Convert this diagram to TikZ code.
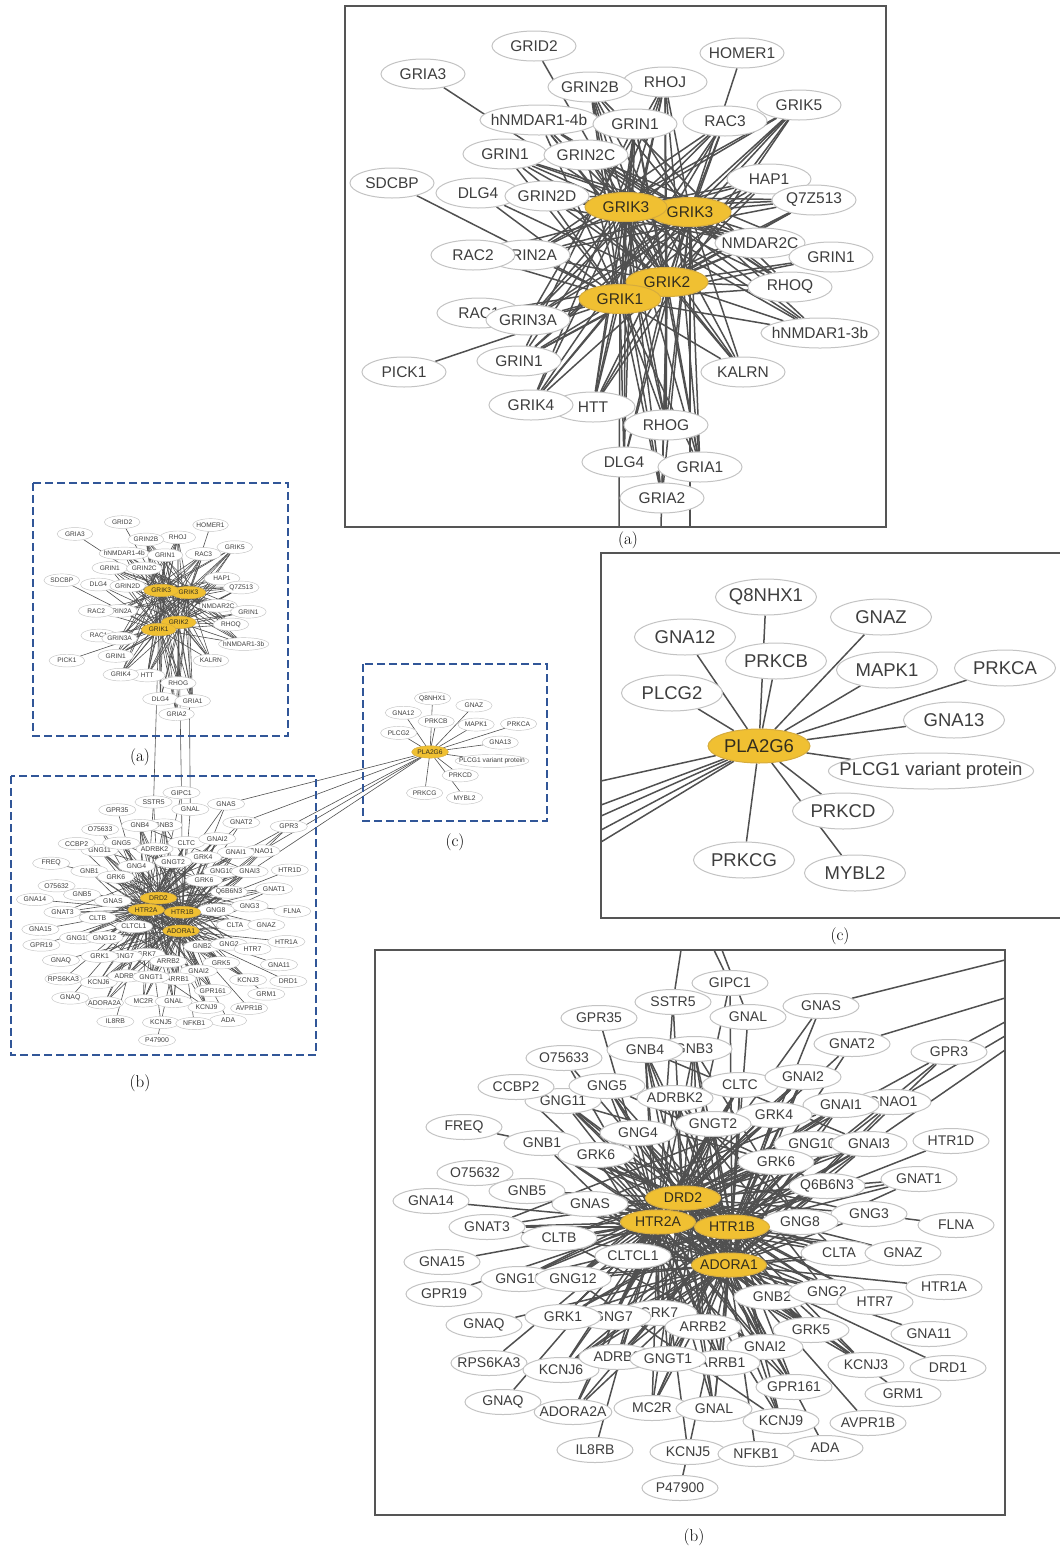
\documentclass[tikz,border=0pt]{standalone}
\usepackage{fontspec}
\newfontfamily\genefont{Liberation Sans}
\usetikzlibrary{shapes.geometric,backgrounds}

\definecolor{hubyellow}{RGB}{240,192,50}
\definecolor{hubedge}{RGB}{214,172,62}
\definecolor{ringgray}{RGB}{195,195,195}
\definecolor{labgray}{RGB}{62,62,62}
\definecolor{hubtext}{RGB}{50,45,30}
\definecolor{linkgray}{RGB}{80,80,80}
\definecolor{boxblue}{RGB}{49,86,152}
\definecolor{framegray}{RGB}{85,85,85}

% glutamate receptor network, in the coordinates of the large panel (a)
\newcommand{\netA}[1]{%
  \node[gA] (#1-grid2) at (534,46) {GRID2};
  \node[gA] (#1-homer1) at (742,53) {HOMER1};
  \node[gA] (#1-gria3) at (423,74) {GRIA3};
  \node[gA] (#1-rhoj) at (665,82) {RHOJ};
  \node[gA] (#1-grin2b) at (590,87) {GRIN2B};
  \node[gA] (#1-nmdar14b) at (539,120) {hNMDAR1-4b};
  \node[gA] (#1-grin1a) at (635,124) {GRIN1};
  \node[gA] (#1-rac3) at (725,121) {RAC3};
  \node[gA] (#1-grik5) at (799,105) {GRIK5};
  \node[gA] (#1-grin1b) at (505,154) {GRIN1};
  \node[gA] (#1-grin2c) at (586,155) {GRIN2C};
  \node[gA] (#1-sdcbp) at (392,183) {SDCBP};
  \node[gA] (#1-dlg4a) at (478,193) {DLG4};
  \node[gA] (#1-grin2d) at (547,196) {GRIN2D};
  \node[gA] (#1-hap1) at (769,179) {HAP1};
  \node[gA] (#1-q7z513) at (814,200) {Q7Z513};
  \node[hA] (#1-k3b) at (690,212) {GRIK3};
  \node[hA] (#1-k3a) at (626,207) {GRIK3};
  \node[gA] (#1-nmdar2c) at (760,243) {NMDAR2C};
  \node[gA] (#1-grin2a) at (528,255) {GRIN2A};
  \node[gA] (#1-rac2) at (473,255) {RAC2};
  \node[gA] (#1-grin1c) at (831,257) {GRIN1};
  \node[gA] (#1-rhoq) at (790,287) {RHOQ};
  \node[hA] (#1-k2) at (667,282) {GRIK2};
  \node[hA] (#1-k1) at (620,299) {GRIK1};
  \node[gA] (#1-rac1) at (479,313) {RAC1};
  \node[gA] (#1-grin3a) at (528,320) {GRIN3A};
  \node[gA] (#1-nmdar13b) at (820,333) {hNMDAR1-3b};
  \node[gA] (#1-pick1) at (404,372) {PICK1};
  \node[gA] (#1-grin1d) at (519,361) {GRIN1};
  \node[gA] (#1-kalrn) at (743,372) {KALRN};
  \node[gA] (#1-htt) at (593,407) {HTT};
  \node[gA] (#1-grik4) at (531,405) {GRIK4};
  \node[gA] (#1-rhog) at (666,425) {RHOG};
  \node[gA] (#1-dlg4b) at (624,462) {DLG4};
  \node[gA] (#1-gria1) at (700,467) {GRIA1};
  \node[gA] (#1-gria2) at (662,498) {GRIA2};
  \begin{pgfonlayer}{background}
    \foreach \n in {grin2b,rhoj,nmdar14b,grin1a,rac3,grik5,grin1b,grin2c,dlg4a,grin2d,hap1,q7z513,nmdar2c,grin2a,grin1c,rhoq,grin3a,nmdar13b,grin1d,kalrn,grik4,htt,rhog,dlg4b,gria1,gria2}
      \foreach \h in {k3a,k3b,k2,k1}
        \draw[link] (#1-\n) -- (#1-\h);
    \foreach \n/\h in {gria3/k3a,grid2/k3a,homer1/k3b,sdcbp/k1,pick1/k1,rac2/k1,rac1/k2,k3a/k3b,k3a/k2,k3a/k1,k3b/k2,k3b/k1,k2/k1,
        grin2b/kalrn,grin2b/rhoq,rhoj/grin3a,rhoj/grik4,grin1a/htt,grin1a/grin1d,rac3/grin3a,rac3/grin2a,grik5/grin2a,grik5/grin1d,
        grik5/htt,q7z513/grin2a,q7z513/grin2d,nmdar2c/grin2d,nmdar2c/grin1b,grin1c/dlg4a,grin1c/grin2c,rhoq/nmdar14b,rhoq/grin2c,
        nmdar13b/grin2c,nmdar13b/grin1b,kalrn/nmdar14b,rhog/grin2b,rhog/rhoj,gria1/grin1a,gria1/rhoj,gria2/grin2b,dlg4b/grin1a,
        grik4/rac3,htt/rhoj,grin3a/hap1,grin1d/q7z513,rac2/hap1}
      \draw[link] (#1-\n) -- (#1-\h);
  \end{pgfonlayer}%
}

% dopamine / serotonin receptor network, in the coordinates of the large panel (b)
\newcommand{\netB}[1]{%
  \node[gB] (#1-gipc1) at (730,983) {GIPC1};
  \node[gB] (#1-sstr5) at (673,1002) {SSTR5};
  \node[gB] (#1-gnasa) at (821,1006) {GNAS};
  \node[gB] (#1-gpr35) at (599,1018) {GPR35};
  \node[gB] (#1-gnala) at (748,1017) {GNAL};
  \node[gB] (#1-gnat2) at (852,1044) {GNAT2};
  \node[gB] (#1-gpr3) at (949,1052) {GPR3};
  \node[gB] (#1-gnb3) at (694,1049) {GNB3};
  \node[gB] (#1-gnb4) at (645,1050) {GNB4};
  \node[gB] (#1-o75633) at (564,1058) {O75633};
  \node[gB] (#1-gng11) at (563,1101) {GNG11};
  \node[gB] (#1-ccbp2) at (516,1087) {CCBP2};
  \node[gB] (#1-gng5) at (607,1086) {GNG5};
  \node[gB] (#1-cltc) at (740,1085) {CLTC};
  \node[gB] (#1-gnaiia) at (803,1077) {GNAI2};
  \node[gB] (#1-adrbk2) at (675,1098) {ADRBK2};
  \node[gB] (#1-gnao1) at (893,1102) {GNAO1};
  \node[gB] (#1-gnai1) at (841,1105) {GNAI1};
  \node[gB] (#1-grk4) at (774,1115) {GRK4};
  \node[gB] (#1-freq) at (464,1127) {FREQ};
  \node[gB] (#1-gngt2) at (713,1124) {GNGT2};
  \node[gB] (#1-gnb1) at (542,1143) {GNB1};
  \node[gB] (#1-gng4) at (638,1133) {GNG4};
  \node[gB] (#1-gng10) at (812,1144) {GNG10};
  \node[gB] (#1-gnai3) at (869,1144) {GNAI3};
  \node[gB] (#1-htr1d) at (951,1141) {HTR1D};
  \node[gB] (#1-grk6a) at (596,1155) {GRK6};
  \node[gB] (#1-grk6b) at (776,1162) {GRK6};
  \node[gB] (#1-o75632) at (475,1173) {O75632};
  \node[gB] (#1-gnat1) at (919,1179) {GNAT1};
  \node[gB] (#1-gnb5) at (527,1191) {GNB5};
  \node[gB] (#1-q6b6n3) at (827,1186) {Q6B6N3};
  \node[gB] (#1-gna14) at (431,1201) {GNA14};
  \node[gB] (#1-gnasb) at (590,1204) {GNAS};
  \node[gB] (#1-gng3) at (869,1214) {GNG3};
  \node[gB] (#1-flna) at (956,1225) {FLNA};
  \node[gB] (#1-gnat3) at (487,1227) {GNAT3};
  \node[gB] (#1-gng8) at (800,1222) {GNG8};
  \node[gB] (#1-cltb) at (559,1238) {CLTB};
  \node[gB] (#1-gna15) at (442,1262) {GNA15};
  \node[gB] (#1-cltcl1) at (633,1256) {CLTCL1};
  \node[gB] (#1-clta) at (839,1253) {CLTA};
  \node[gB] (#1-gnaz) at (903,1253) {GNAZ};
  \node[gB] (#1-htr1a) at (944,1287) {HTR1A};
  \node[gB] (#1-gng13) at (519,1279) {GNG13};
  \node[gB] (#1-gng12) at (573,1279) {GNG12};
  \node[gB] (#1-gpr19) at (444,1294) {GPR19};
  \node[gB] (#1-gnb2) at (772,1297) {GNB2};
  \node[gB] (#1-gng2) at (827,1292) {GNG2};
  \node[gB] (#1-htr7) at (875,1302) {HTR7};
  \node[gB] (#1-grk7) at (659,1313) {GRK7};
  \node[gB] (#1-gng7) at (613,1317) {GNG7};
  \node[gB] (#1-grk1) at (563,1317) {GRK1};
  \node[gB] (#1-arrb2) at (703,1327) {ARRB2};
  \node[gB] (#1-gnaqa) at (484,1325) {GNAQ};
  \node[gB] (#1-grk5) at (811,1330) {GRK5};
  \node[gB] (#1-gna11) at (929,1334) {GNA11};
  \node[gB] (#1-gnaiib) at (765,1347) {GNAI2};
  \node[gB] (#1-rps6ka3) at (489,1363) {RPS6KA3};
  \node[gB] (#1-kcnj6) at (561,1370) {KCNJ6};
  \node[gB] (#1-arrb1) at (722,1363) {ARRB1};
  \node[gB] (#1-adrb2) at (617,1357) {ADRB2};
  \node[gB] (#1-gngt1) at (668,1359) {GNGT1};
  \node[gB] (#1-kcnj3) at (866,1365) {KCNJ3};
  \node[gB] (#1-drd1) at (948,1368) {DRD1};
  \node[gB] (#1-gpr161) at (794,1387) {GPR161};
  \node[gB] (#1-grm1) at (903,1394) {GRM1};
  \node[gB] (#1-gnaqb) at (503,1402) {GNAQ};
  \node[gB] (#1-adora2a) at (573,1412) {ADORA2A};
  \node[gB] (#1-mc2r) at (652,1408) {MC2R};
  \node[gB] (#1-gnalb) at (714,1409) {GNAL};
  \node[gB] (#1-kcnj9) at (781,1421) {KCNJ9};
  \node[gB] (#1-avpr1b) at (868,1423) {AVPR1B};
  \node[gB] (#1-il8rb) at (595,1450) {IL8RB};
  \node[gB] (#1-kcnj5) at (688,1452) {KCNJ5};
  \node[gB] (#1-ada) at (825,1448) {ADA};
  \node[gB] (#1-nfkb1) at (756,1454) {NFKB1};
  \node[gB] (#1-p47900) at (680,1488) {P47900};
  \node[hB] (#1-drd2) at (683,1198) {DRD2};
  \node[hB] (#1-htr2a) at (658,1222) {HTR2A};
  \node[hB] (#1-htr1b) at (732,1227) {HTR1B};
  \node[hB] (#1-adora1) at (729,1265) {ADORA1};
  \begin{pgfonlayer}{background}
    \foreach \n in {gnb4,gnb3,gng5,cltc,gnaiia,gng11,adrbk2,gnai1,grk4,gngt2,gng4,gng10,gnai3,grk6a,grk6b,q6b6n3,gnasb,gng8,cltb,cltcl1,clta,gng12,gng13,gnb2,gng2,grk1,gng7,grk7,arrb2,grk5,gnaiib,adrb2,gngt1,arrb1,kcnj6,gpr161,kcnj3,mc2r,gnalb,kcnj9,adora2a,gnb5,gnb1,gng3,gnat3,gnaz,htr7,gnat1}
      \foreach \h in {drd2,htr2a,htr1b,adora1}
        \draw[link] (#1-\n) -- (#1-\h);
    \foreach \n/\h in {gipc1/drd2,gipc1/htr1b,sstr5/drd2,sstr5/htr2a,gnasa/drd2,gnasa/htr1b,gpr35/htr2a,gnala/adora1,gnat2/htr1b,gnat2/drd2,
        gpr3/htr1b,gpr3/adora1,gpr3/drd2,o75633/htr2a,o75633/drd2,ccbp2/htr2a,gnao1/htr1b,gnao1/adora1,htr1d/htr1b,o75632/htr2a,
        gna14/htr2a,gna15/htr2a,htr1a/adora1,gpr19/htr2a,gnaqa/adora1,gna11/adora1,rps6ka3/htr2a,drd1/adora1,grm1/adora1,gnaqb/htr2a,
        avpr1b/adora1,il8rb/htr2a,kcnj5/adora1,kcnj5/htr2a,nfkb1/adora1,ada/adora1,freq/gnb1,flna/gng3,p47900/kcnj5,
        drd2/htr2a,drd2/htr1b,drd2/adora1,htr2a/htr1b,htr2a/adora1,htr1b/adora1,
        gnb4/gnai3,gnb3/gng8,gng5/q6b6n3,cltc/cltcl1,gnaiia/gng12,gng11/grk6b,adrbk2/clta,gnai1/gnasb,grk4/gnat3,gngt2/gng7,
        gng4/gnb2,gng10/cltb,gnai3/grk1,grk6a/gng3,grk6b/gng13,q6b6n3/kcnj6,gnasb/grk5,gng8/gnb5,cltb/gnaiib,cltcl1/gnai1,
        clta/gnb1,gng12/grk4,gng2/adrbk2,grk1/gnaiia,gng7/cltc,grk7/gnb4,arrb2/gnb3,grk5/gng11,gnaiib/gng5,adrb2/gng10,
        gngt1/gngt2,arrb1/grk6a,kcnj6/gnai3,gpr161/gnb1,kcnj3/gnasb,mc2r/gnaiia,gnalb/gnb4,kcnj9/gng12}
      \draw[link] (#1-\n) -- (#1-\h);
  \end{pgfonlayer}%
}

% PLA2G6 star, in the coordinates of the large panel (c)
\newcommand{\netC}[1]{%
  \node[gC] (#1-q8nhx1) at (766,597) {Q8NHX1};
  \node[gC] (#1-gna12) at (685,637) {GNA12};
  \node[gC] (#1-gnaz) at (881,617) {GNAZ};
  \node[gC] (#1-prkcb) at (776,661) {PRKCB};
  \node[gC] (#1-mapk1) at (887,670) {MAPK1};
  \node[gC] (#1-prkca) at (1005,668) {PRKCA};
  \node[gC] (#1-plcg2) at (672,693) {PLCG2};
  \node[gC] (#1-gna13) at (954,720) {GNA13};
  \node[gC, inner xsep=-19pt] (#1-plcg1) at (931,771) {PLCG1 variant protein};
  \node[gC] (#1-prkcd) at (843,811) {PRKCD};
  \node[gC] (#1-prkcg) at (744,860) {PRKCG};
  \node[gC] (#1-mybl2) at (855,873) {MYBL2};
  \node[hC] (#1-pla2g6) at (759,746) {PLA2G6};
  \begin{pgfonlayer}{background}
    \foreach \n in {q8nhx1,gna12,gnaz,prkcb,mapk1,prkca,plcg2,gna13,plcg1,prkcd,prkcg,mybl2}
      \draw[link] (#1-pla2g6) -- (#1-\n);
  \end{pgfonlayer}%
}

\begin{document}
\begin{tikzpicture}[x=1pt, y=-1pt,
  gene/.style={ellipse, draw=ringgray, fill=white, text=labgray, ringline, inner ysep=0pt},
  ringline/.style={line width=1pt},
  link/.style={draw=linkgray, line width=1.5pt},
  thinlink/.style={draw=linkgray, line width=0.6pt},
  gA/.style={gene, font=\genefont\fontsize{15.5}{17}\selectfont, inner xsep=-6.5pt, minimum width=84pt, minimum height=30pt},
  hA/.style={gA, draw=hubedge, fill=hubyellow, text=hubtext, minimum width=82pt, minimum height=29pt},
  gB/.style={gene, font=\genefont\fontsize{14}{16}\selectfont, inner xsep=-6pt, minimum width=76pt, minimum height=25pt},
  hB/.style={gB, draw=hubedge, fill=hubyellow, text=hubtext, minimum width=75pt, minimum height=24pt},
  gC/.style={gene, font=\genefont\fontsize{18.5}{21}\selectfont, inner xsep=-6pt, minimum width=101pt, minimum height=36pt},
  hC/.style={gC, draw=hubedge, fill=hubyellow, text=hubtext, minimum width=102pt, minimum height=34pt},
  panel/.style={draw=framegray, line width=1.2pt},
  ovbox/.style={draw=boxblue, line width=2.6pt, dash pattern=on 8pt off 4pt},
  overview/.style={transform shape, ringline/.style={line width=0.45pt}, link/.style={draw=linkgray, line width=0.6pt}},
  panelcap/.style={font=\fontsize{17}{20}\selectfont, inner sep=0pt}
]
  \useasboundingbox (0,0) rectangle (1060,1551);

  % large panel (a)
  \draw[panel] (345,6) rectangle (886,527);
  \netA{A}
  \coordinate (A-out1) at (619,527);
  \coordinate (A-out2) at (661,527);
  \coordinate (A-out3) at (690,527);
  \begin{pgfonlayer}{background}
    \draw[link] (A-k1) -- (A-out1);
    \draw[link] (A-k2) -- (A-out2);
    \draw[link] (A-k3b) -- (A-out3);
  \end{pgfonlayer}
  \node[panelcap] (capA) at (628,540) {(a)};

  % large panel (c)
  \draw[panel] (1062,553) -- (601,553) -- (601,918) -- (1062,918);
  \netC{C}
  \foreach \i/\y in {1/781,2/805,3/816,4/830,5/842}
    \coordinate (C-out\i) at (601,\y);
  \begin{pgfonlayer}{background}
    \foreach \i in {1,...,5}
      \draw[link] (C-pla2g6) -- (C-out\i);
  \end{pgfonlayer}
  \node[panelcap] (capC) at (840,936) {(c)};

  % large panel (b)
  \draw[panel] (375,950) rectangle (1005,1515);
  \netB{B}
  \coordinate (B-top1) at (681,950);
  \coordinate (B-top2) at (714,950);
  \coordinate (B-top3) at (722,950);
  \coordinate (B-side1) at (1005,960);
  \coordinate (B-side2) at (1005,998);
  \coordinate (B-side3) at (1005,1022);
  \coordinate (B-side4) at (1005,1036);
  \coordinate (B-side5) at (1005,1050);
  \begin{pgfonlayer}{background}
    \foreach \n/\c in {sstr5/top1,gipc1/top2,gnala/top3,gnasa/side1,gnat2/side2,gpr3/side3,gnao1/side4,gnai3/side5}
      \draw[link] (B-\n) -- (B-\c);
  \end{pgfonlayer}
  \node[panelcap] (capB) at (694,1537) {(b)};

  % overview
  \draw[ovbox] (33,483) rectangle (288,736);
  \begin{scope}[shift={(-104.8,502.5)}, scale=0.425, overview]
    \netA{a}
  \end{scope}
  \draw[ovbox] (11,776) rectangle (316,1055);
  \begin{scope}[shift={(-176.2,311)}, scale=0.49, overview]
    \netB{b}
  \end{scope}
  \draw[ovbox] (363,664) rectangle (547,821);
  \begin{scope}[shift={(156.8,483.4)}, scale=0.36, overview]
    \netC{c}
  \end{scope}
  \begin{pgfonlayer}{background}
    \foreach \u/\v in {a-k1/b-sstr5,a-k2/b-gipc1,a-k3b/b-gnala,c-pla2g6/b-gnasa,c-pla2g6/b-gnat2,c-pla2g6/b-gpr3,c-pla2g6/b-gnao1,c-pla2g6/b-gnai3}
      \draw[thinlink] (\u) -- (\v);
  \end{pgfonlayer}
  \node[panelcap] (capa) at (140,757) {(a)};
  \node[panelcap] (capb) at (140,1083) {(b)};
  \node[panelcap] (capc) at (455,842) {(c)};
\end{tikzpicture}
\end{document}
